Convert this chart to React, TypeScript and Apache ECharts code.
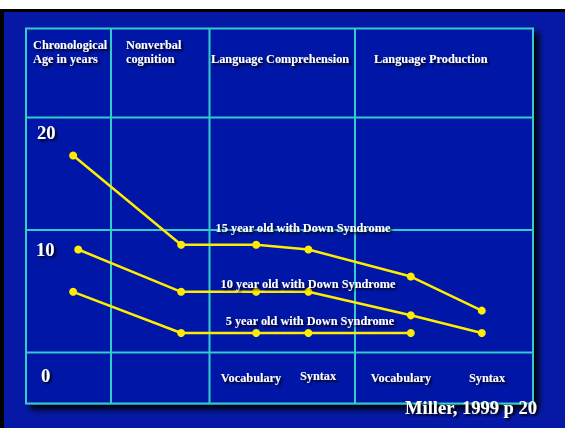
import React, { useEffect, useRef } from "react";
import * as echarts from "echarts";

// Stage positions along the horizontal scale (0-100)
const stageNames = ["Chronological Age", "Nonverbal cognition", "Comprehension Vocabulary", "Comprehension Syntax", "Production Vocabulary", "Production Syntax"];
const stageX = [9.3, 30.6, 45.4, 55.7, 75.9, 89.9];
const ageX10 = 10.3;

// Series values (relative developmental level)
const series15 = [16.8, 9.2, 9.2, 8.8, 6.5, 3.6];
const series10 = [8.8, 5.2, 5.2, 5.2, 3.2, 1.7];
const series5 = [5.2, 1.7, 1.7, 1.7, 1.7];

const seriesNames = ["15 year old with Down Syndrome", "10 year old with Down Syndrome", "5 year old with Down Syndrome"];
const rowLabels = ["20", "10", "0"];

const BLUE = "#0519a6";
const CYAN = "#33cccc";
const YELLOW = "#ffec00";
const FONT = '"Liberation Serif", "Times New Roman", serif';

export default function App() {
  const ref = useRef<HTMLDivElement>(null);
  useEffect(() => {
    const chart = echarts.init(ref.current!, null, { renderer: "svg" });

    const txt = (text: string, x: number, y: number, size = 12.3, align = "left") => ({
      type: "text",
      x,
      y,
      z: 20,
      style: {
        text,
        fill: "#ffffff",
        font: `bold ${size}px ${FONT}`,
        textAlign: align,
        textVerticalAlign: "middle",
        textShadowColor: "rgba(0,0,0,0.9)",
        textShadowBlur: 2,
        textShadowOffsetX: 2,
        textShadowOffsetY: 2,
      },
    });
    const vline = (x: number) => ({
      type: "line",
      z: 1,
      shape: { x1: x, y1: 28.5, x2: x, y2: 403.5 },
      style: { stroke: CYAN, lineWidth: 2 },
    });
    const hline = (y: number) => ({
      type: "line",
      z: 1,
      shape: { x1: 26, y1: y, x2: 533, y2: y },
      style: { stroke: CYAN, lineWidth: 2 },
    });

    const mk = (xs: number[], ys: number[]) => ys.map((v, i) => [xs[i], v]);
    const xs10 = [ageX10, ...stageX.slice(1)];

    const lineSeries = (name: string, data: number[][]) => ({
      name,
      type: "line",
      data,
      z: 5,
      symbol: "circle",
      symbolSize: 8,
      lineStyle: { color: YELLOW, width: 2.5 },
      itemStyle: { color: YELLOW },
      emphasis: { disabled: true },
    });

    chart.setOption({
      animation: false,
      backgroundColor: "#ffffff",
      grid: { left: 26, right: 32, top: 28.5, bottom: 24.5 },
      xAxis: { type: "value", min: 0, max: 100, show: false },
      yAxis: { type: "value", min: -4.3, max: 27.6, show: false },
      graphic: [
        { type: "rect", z: 0, shape: { x: 0, y: 9, width: 565, height: 419 }, style: { fill: "#000000" } },
        { type: "rect", z: 0, shape: { x: 4, y: 12, width: 561, height: 416 }, style: { fill: BLUE } },
        {
          type: "rect",
          z: 0,
          shape: { x: 26, y: 28.5, width: 507, height: 375 },
          style: {
            fill: BLUE,
            stroke: CYAN,
            lineWidth: 2,
            shadowColor: "rgba(0,0,0,0.95)",
            shadowBlur: 6,
            shadowOffsetX: 5,
            shadowOffsetY: 5,
          },
        },
        vline(111),
        vline(209.5),
        vline(355),
        hline(117.5),
        hline(230),
        hline(352.5),
        txt("Chronological", 33, 45),
        txt("Age in years", 33, 59),
        txt("Nonverbal", 126, 45),
        txt("cognition", 126, 59),
        txt("Language Comprehension", 211, 59),
        txt("Language Production", 374, 59),
        txt(rowLabels[0], 37, 133, 18.5),
        txt(rowLabels[1], 36, 250, 18.5),
        txt(rowLabels[2], 41, 376, 18.5),
        txt("Vocabulary", 251, 378, 12.3, "center"),
        txt("Syntax", 318, 376, 12.3, "center"),
        txt("Vocabulary", 401, 378, 12.3, "center"),
        txt("Syntax", 487, 378, 12.3, "center"),
        txt(seriesNames[0], 303, 228, 12.3, "center"),
        txt(seriesNames[1], 308, 284, 12.3, "center"),
        txt(seriesNames[2], 310, 321, 12.3, "center"),
        txt("Miller, 1999 p 20", 537, 408, 18.5, "right"),
      ],
      series: [
        lineSeries(seriesNames[0], mk(stageX, series15)),
        lineSeries(seriesNames[1], mk(xs10, series10)),
        lineSeries(seriesNames[2], mk(stageX, series5)),
      ],
    } as any);
    return () => chart.dispose();
  }, []);
  return (
    <div
      ref={ref}
      style={{ position: "fixed", left: 0, top: 0, width: 565, height: 428 }}
      data-stages={stageNames.join("|")}
    />
  );
}
